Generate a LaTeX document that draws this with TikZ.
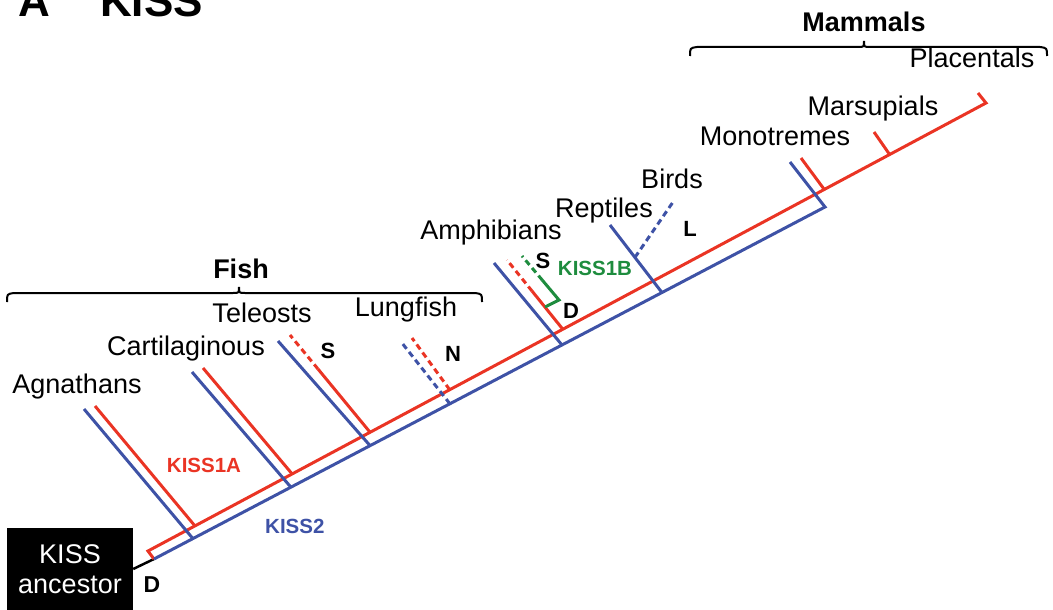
\documentclass[tikz,border=0pt]{standalone}
\usepackage{fontspec}
\setmainfont{Liberation Sans}
\usetikzlibrary{calc}
\definecolor{kred}{RGB}{234,52,36}
\definecolor{kblue}{RGB}{62,82,166}
\definecolor{kgreen}{RGB}{30,140,62}
\begin{document}
\begin{tikzpicture}[x=1pt,y=-1pt,
  redl/.style={kred,line width=3pt},
  bluel/.style={kblue,line width=3pt},
  greenl/.style={kgreen,line width=3pt},
  dsh/.style={dash pattern=on 6pt off 4pt},
  taxon/.style={anchor=base,inner sep=0pt,font=\fontsize{27}{30}\selectfont},
  grp/.style={anchor=base,inner sep=0pt,font=\fontsize{27}{30}\selectfont\bfseries},
  lbl/.style={anchor=base,inner sep=0pt,font=\fontsize{20.5}{24}\selectfont\bfseries},
  ltr/.style={anchor=base,inner sep=0pt,font=\fontsize{22}{26}\selectfont\bfseries},
  brace/.style={black,line width=2pt}]
\useasboundingbox (0,0) rectangle (1053,610);
\clip (0,0) rectangle (1053,610);

% title
\node[anchor=base west,inner sep=0pt,font=\fontsize{44}{48}\selectfont\bfseries] (ta) at (18,17) {A};
\node[anchor=base west,inner sep=0pt,font=\fontsize{44}{48}\selectfont\bfseries] (tk) at (100,17) {KISS};

% ancestor
\node[fill=black,text=white,minimum width=126pt,minimum height=82pt,inner sep=0pt,align=center,
      font=\fontsize{27}{30}\selectfont] (anc) at (70,569) {KISS\\ancestor};
\node[ltr,font=\fontsize{23}{26}\selectfont\bfseries] (dA) at (152,592) {D};

% main lines
\coordinate (rt) at (154,559);
\coordinate (r0) at (148,551);
\coordinate (r1) at (986,103);
\coordinate (b1) at (825,207);
\coordinate (plT) at (978,93);
\coordinate (moBT) at (790,162);
\draw[black,line width=2.5pt] (anc.east) -- (rt);
\draw[redl,line join=miter] (rt) -- (r0) -- (r1) -- (plT);
\draw[bluel,line join=miter] (rt) -- (b1) -- (moBT);

% branch bases
\coordinate (agR) at ($(r0)!0.056!(r1)$);
\coordinate (caR) at ($(r0)!0.172!(r1)$);
\coordinate (teR) at ($(r0)!0.265!(r1)$);
\coordinate (luR) at ($(r0)!0.360!(r1)$);
\coordinate (amR) at ($(r0)!0.495!(r1)$);
\coordinate (moR) at ($(r0)!0.807!(r1)$);
\coordinate (maR) at ($(r0)!0.885!(r1)$);
\coordinate (agB) at ($(rt)!0.058!(b1)$);
\coordinate (caB) at ($(rt)!0.204!(b1)$);
\coordinate (teB) at ($(rt)!0.322!(b1)$);
\coordinate (luB) at ($(rt)!0.441!(b1)$);
\coordinate (amB) at ($(rt)!0.608!(b1)$);
\coordinate (reB) at ($(rt)!0.757!(b1)$);

% branch tops
\coordinate (agRT) at (95,406);
\coordinate (agBT) at (84,409);
\coordinate (caRT) at (203,368);
\coordinate (caBT) at (192,372);
\coordinate (teRT) at (290,335);
\coordinate (teBT) at (278,341);
\coordinate (luRT) at (412,338);
\coordinate (luBT) at (402,343);
\coordinate (amRT) at (507,260);
\coordinate (amBT) at (494,263);
\coordinate (reBT) at (610,225);
\coordinate (biT) at (673,202);
\coordinate (moRT) at (801,158);
\coordinate (maRT) at (874,132);
\coordinate (grT) at (522,256);
\coordinate (grC) at (559,300);

% fish branches
\draw[bluel] (agB) -- (agBT);
\draw[redl] (agR) -- (agRT);
\draw[bluel] (caB) -- (caBT);
\draw[redl] (caR) -- (caRT);
\draw[bluel] (teB) -- (teBT);
\draw[redl] (teR) -- ($(teRT)!0.35!(teR)$);
\draw[redl,dsh] ($(teRT)!0.35!(teR)$) -- (teRT);
\draw[bluel,dsh] (luB) -- (luBT);
\draw[redl,dsh] (luR) -- (luRT);

% tetrapods
\draw[bluel] (amB) -- (amBT);
\draw[redl] (amR) -- ($(amRT)!0.45!(amR)$);
\draw[redl,dsh] ($(amRT)!0.45!(amR)$) -- (amRT);
\coordinate (grJ) at ($(amRT)!0.68!(amR)$);
\draw[greenl,line join=miter] (grJ) -- (grC) -- ($(grT)!0.55!(grC)$);
\draw[greenl,dsh] ($(grT)!0.55!(grC)$) -- (grT);
\draw[bluel] (reB) -- (reBT);
\coordinate (biB) at ($(reBT)!0.48!(reB)$);
\draw[bluel,dsh] (biB) -- (biT);
\draw[redl] (moR) -- (moRT);
\draw[redl] (maR) -- (maRT);

% braces
\draw[brace] (7,302) .. controls (7,294) .. (14,293) -- (233,293) .. controls (239,293) .. (239,287)
  .. controls (239,293) .. (245,293) -- (475,293) .. controls (482,294) .. (482,302);
\draw[brace] (690,56) .. controls (690,48) .. (697,47) -- (858,47) .. controls (864,47) .. (864,41)
  .. controls (864,47) .. (870,47) -- (1040,47) .. controls (1047,48) .. (1047,56);

% labels
\node[grp] (fish) at (241,278) {Fish};
\node[grp] (mam) at (864,32) {Mammals};
\node[taxon] (lAg) at (77,393) {Agnathans};
\node[taxon] (lCa) at (186,355) {Cartilaginous};
\node[taxon] (lTe) at (262,322) {Teleosts};
\node[taxon] (lLu) at (406,316) {Lungfish};
\node[taxon] (lAm) at (491,239) {Amphibians};
\node[taxon] (lRe) at (604,217) {Reptiles};
\node[taxon] (lBi) at (672,188) {Birds};
\node[taxon] (lMo) at (775,145) {Monotremes};
\node[taxon] (lMa) at (873,115) {Marsupials};
\node[taxon] (lPl) at (972,68) {Placentals};

\node[ltr] (mS1) at (328,358) {S};
\node[ltr] (mN) at (453,361) {N};
\node[ltr] (mS2) at (543,268) {S};
\node[ltr] (mD) at (571,318) {D};
\node[ltr] (mL) at (690,236) {L};
\node[lbl,text=kgreen] (k1b) at (595,275) {KISS1B};
\node[lbl,text=kred] (k1a) at (204,472) {KISS1A};
\node[lbl,text=kblue,anchor=base west] (k2) at (265,533) {KISS2};
\end{tikzpicture}
\end{document}
